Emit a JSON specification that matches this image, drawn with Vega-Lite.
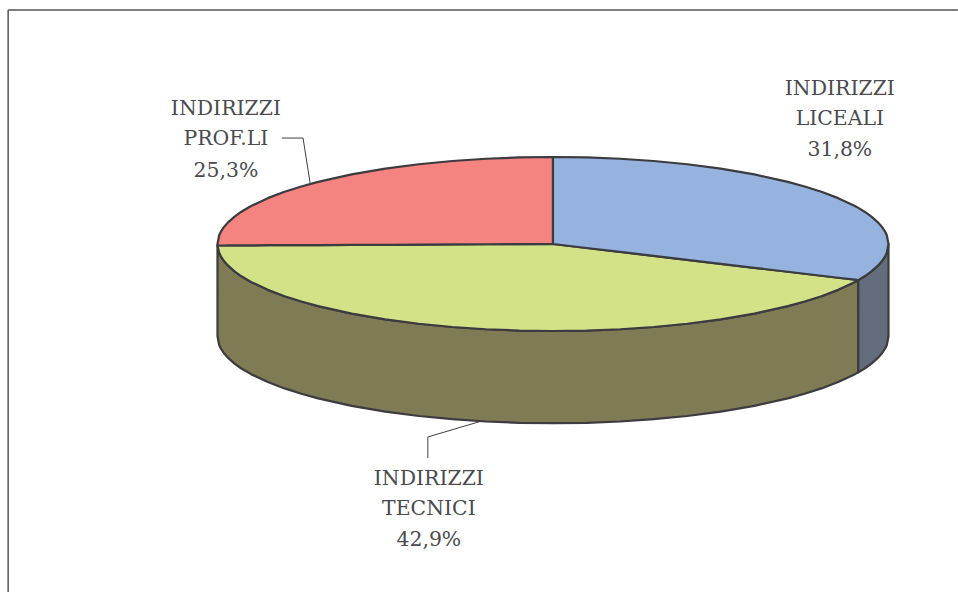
{"$schema":"https://vega.github.io/schema/vega-lite/v6.json","width":958,"height":592,"autosize":"none","padding":0,"background":"white","config":{"view":{"stroke":null}},
"datasets":{
"walls":[
{"s":"t","u":-100,"a":-1.7,"b":-106},{"s":"t","u":-99.5,"a":-10,"b":-116},{"s":"t","u":-99,"a":-14.1,"b":-120.1},{"s":"t","u":-98,"a":-19.9,"b":-125.9},{"s":"t","u":-97,"a":-24.3,"b":-130.3},{"s":"t","u":-95,"a":-31.2,"b":-137.2},{"s":"t","u":-93,"a":-36.8,"b":-142.8},{"s":"t","u":-90,"a":-43.6,"b":-149.6},{"s":"t","u":-85,"a":-52.7,"b":-158.7},{"s":"t","u":-80,"a":-60,"b":-166},{"s":"t","u":-75,"a":-66.1,"b":-172.1},{"s":"t","u":-70,"a":-71.4,"b":-177.4},{"s":"t","u":-60,"a":-80,"b":-186},{"s":"t","u":-50,"a":-86.6,"b":-192.6},{"s":"t","u":-40,"a":-91.7,"b":-197.7},{"s":"t","u":-30,"a":-95.4,"b":-201.4},{"s":"t","u":-20,"a":-98,"b":-204},{"s":"t","u":-10,"a":-99.5,"b":-205.5},{"s":"t","u":0,"a":-100,"b":-206},{"s":"t","u":10,"a":-99.5,"b":-205.5},{"s":"t","u":20,"a":-98,"b":-204},{"s":"t","u":30,"a":-95.4,"b":-201.4},{"s":"t","u":40,"a":-91.7,"b":-197.7},{"s":"t","u":50,"a":-86.6,"b":-192.6},{"s":"t","u":60,"a":-80,"b":-186},{"s":"t","u":70,"a":-71.4,"b":-177.4},{"s":"t","u":75,"a":-66.1,"b":-172.1},{"s":"t","u":80,"a":-60,"b":-166},{"s":"t","u":85,"a":-52.7,"b":-158.7},{"s":"t","u":90,"a":-43.6,"b":-149.6},{"s":"t","u":91,"a":-41.5,"b":-147.5},
{"s":"l","u":91,"a":-41.5,"b":-147.5},{"s":"l","u":93,"a":-36.8,"b":-142.8},{"s":"l","u":95,"a":-31.2,"b":-137.2},{"s":"l","u":97,"a":-24.3,"b":-130.3},{"s":"l","u":98,"a":-19.9,"b":-125.9},{"s":"l","u":99,"a":-14.1,"b":-120.1},{"s":"l","u":99.5,"a":-10,"b":-116},{"s":"l","u":100,"a":0,"b":-106}
],
"tops":[
{"s":"T","u":-100,"a":-1.7,"b":-1.7},{"s":"T","u":-99.5,"a":-1.7,"b":-10},{"s":"T","u":-99,"a":-1.7,"b":-14.1},{"s":"T","u":-98,"a":-1.7,"b":-19.9},{"s":"T","u":-97,"a":-1.6,"b":-24.3},{"s":"T","u":-95,"a":-1.6,"b":-31.2},{"s":"T","u":-93,"a":-1.6,"b":-36.8},{"s":"T","u":-90,"a":-1.5,"b":-43.6},{"s":"T","u":-85,"a":-1.4,"b":-52.7},{"s":"T","u":-80,"a":-1.4,"b":-60},{"s":"T","u":-75,"a":-1.3,"b":-66.1},{"s":"T","u":-70,"a":-1.2,"b":-71.4},{"s":"T","u":-60,"a":-1,"b":-80},{"s":"T","u":-50,"a":-0.9,"b":-86.6},{"s":"T","u":-40,"a":-0.7,"b":-91.7},{"s":"T","u":-30,"a":-0.5,"b":-95.4},{"s":"T","u":-20,"a":-0.3,"b":-98},{"s":"T","u":-10,"a":-0.2,"b":-99.5},{"s":"T","u":0,"a":0,"b":-100},{"s":"T","u":10,"a":-4.6,"b":-99.5},{"s":"T","u":20,"a":-9.1,"b":-98},{"s":"T","u":30,"a":-13.7,"b":-95.4},{"s":"T","u":40,"a":-18.2,"b":-91.7},{"s":"T","u":50,"a":-22.8,"b":-86.6},{"s":"T","u":60,"a":-27.4,"b":-80},{"s":"T","u":70,"a":-31.9,"b":-71.4},{"s":"T","u":75,"a":-34.2,"b":-66.1},{"s":"T","u":80,"a":-36.5,"b":-60},{"s":"T","u":85,"a":-38.8,"b":-52.7},{"s":"T","u":90,"a":-41,"b":-43.6},{"s":"T","u":91,"a":-41.5,"b":-41.5},
{"s":"P","u":-100,"a":0,"b":-1.7},{"s":"P","u":-99.5,"a":10,"b":-1.7},{"s":"P","u":-99,"a":14.1,"b":-1.7},{"s":"P","u":-98,"a":19.9,"b":-1.7},{"s":"P","u":-97,"a":24.3,"b":-1.6},{"s":"P","u":-95,"a":31.2,"b":-1.6},{"s":"P","u":-93,"a":36.8,"b":-1.6},{"s":"P","u":-90,"a":43.6,"b":-1.5},{"s":"P","u":-85,"a":52.7,"b":-1.4},{"s":"P","u":-80,"a":60,"b":-1.4},{"s":"P","u":-75,"a":66.1,"b":-1.3},{"s":"P","u":-70,"a":71.4,"b":-1.2},{"s":"P","u":-60,"a":80,"b":-1},{"s":"P","u":-50,"a":86.6,"b":-0.9},{"s":"P","u":-40,"a":91.7,"b":-0.7},{"s":"P","u":-30,"a":95.4,"b":-0.5},{"s":"P","u":-20,"a":98,"b":-0.3},{"s":"P","u":-10,"a":99.5,"b":-0.2},{"s":"P","u":0,"a":100,"b":0},
{"s":"L","u":0,"a":100,"b":0},{"s":"L","u":10,"a":99.5,"b":-4.6},{"s":"L","u":20,"a":98,"b":-9.1},{"s":"L","u":30,"a":95.4,"b":-13.7},{"s":"L","u":40,"a":91.7,"b":-18.2},{"s":"L","u":50,"a":86.6,"b":-22.8},{"s":"L","u":60,"a":80,"b":-27.4},{"s":"L","u":70,"a":71.4,"b":-31.9},{"s":"L","u":75,"a":66.1,"b":-34.2},{"s":"L","u":80,"a":60,"b":-36.5},{"s":"L","u":85,"a":52.7,"b":-38.8},{"s":"L","u":90,"a":43.6,"b":-41},{"s":"L","u":91,"a":41.5,"b":-41.5},{"s":"L","u":93,"a":36.8,"b":-36.8},{"s":"L","u":95,"a":31.2,"b":-31.2},{"s":"L","u":97,"a":24.3,"b":-24.3},{"s":"L","u":98,"a":19.9,"b":-19.9},{"s":"L","u":99,"a":14.1,"b":-14.1},{"s":"L","u":99.5,"a":10,"b":-10},{"s":"L","u":100,"a":0,"b":0}
],
"leaders":[
{"k":"prof","i":1,"u":-80.8,"v":121.8},{"k":"prof","i":2,"u":-74.5,"v":121.8},{"k":"prof","i":3,"u":-72.4,"v":70.1},
{"k":"tec","i":1,"u":-37.3,"v":-246},{"k":"tec","i":2,"u":-37.3,"v":-221.8},{"k":"tec","i":3,"u":-21.2,"v":-203.4}
],
"frame":[{"k":"top","i":1,"u":-162.4,"v":269},{"k":"top","i":2,"u":120.7,"v":269},{"k":"left","i":1,"u":-162.4,"v":269},{"k":"left","i":2,"u":-162.4,"v":-400}],
"labels":[
{"t":"INDIRIZZI","u":-97.5,"v":148.3},{"t":"PROF.LI","u":-97.5,"v":113.8},{"t":"25,3%","u":-97.5,"v":77},
{"t":"INDIRIZZI","u":85.5,"v":171.3},{"t":"LICEALI","u":85.5,"v":136.8},{"t":"31,8%","u":85.5,"v":101.1},
{"t":"INDIRIZZI","u":-37,"v":-277},{"t":"TECNICI","u":-37,"v":-311.5},{"t":"42,9%","u":-37,"v":-347}
]},
"layer":[
{"data":{"name":"frame"},"mark":{"type":"line","stroke":"#555555","strokeWidth":1.5},"encoding":{"x":{"field":"u","type":"quantitative","scale":{"domain":[-164.83,120.72],"nice":false,"zero":false},"axis":null},"y":{"field":"v","type":"quantitative","scale":{"domain":[-400,280.46],"nice":false,"zero":false},"axis":null},"detail":{"field":"k"},"order":{"field":"i"}}},
{"data":{"name":"leaders"},"mark":{"type":"line","stroke":"#404040","strokeWidth":1},"encoding":{"x":{"field":"u","type":"quantitative"},"y":{"field":"v","type":"quantitative"},"detail":{"field":"k"},"order":{"field":"i"}}},
{"data":{"name":"walls"},"mark":{"type":"area","orient":"vertical","stroke":"#3b3b40","strokeWidth":2.2,"strokeJoin":"round"},"encoding":{"x":{"field":"u","type":"quantitative"},"y":{"field":"a","type":"quantitative"},"y2":{"field":"b"},"color":{"field":"s","type":"nominal","legend":null,"scale":{"domain":["t","l","T","P","L"],"range":["#7F7B55","#646D7E","#D3E287","#F58380","#95B3DE"]}}}},
{"data":{"name":"tops"},"mark":{"type":"area","orient":"vertical","stroke":"#3b3b40","strokeWidth":2.2,"strokeJoin":"round"},"encoding":{"x":{"field":"u","type":"quantitative"},"y":{"field":"a","type":"quantitative"},"y2":{"field":"b"},"color":{"field":"s","type":"nominal","legend":null}}},
{"data":{"name":"labels"},"mark":{"type":"text","font":"DejaVu Serif","fontSize":20.4,"fill":"#4a4a4f","align":"center","baseline":"alphabetic"},"encoding":{"x":{"field":"u","type":"quantitative"},"y":{"field":"v","type":"quantitative"},"text":{"field":"t"}}}
]}
